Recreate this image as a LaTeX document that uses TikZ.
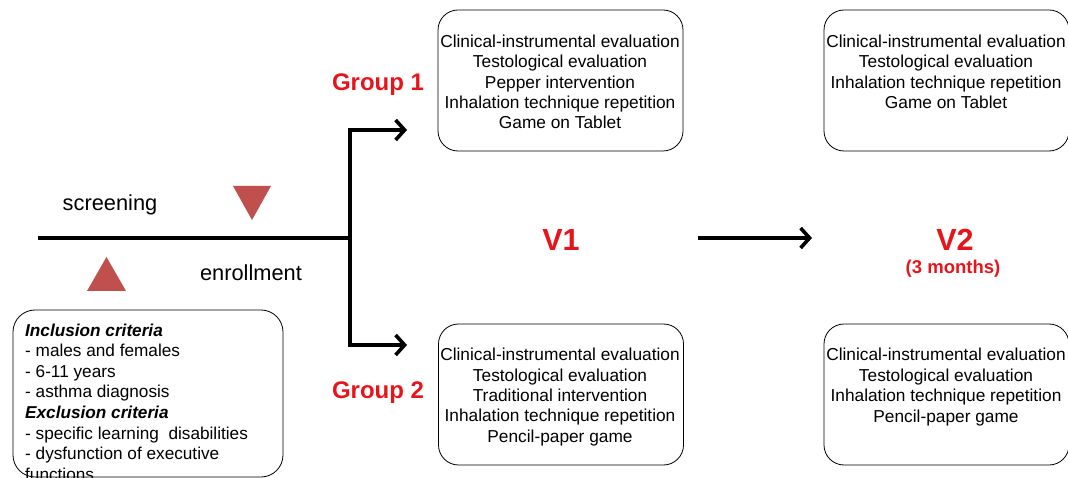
\documentclass[tikz,border=0pt]{standalone}
\usepackage{fontspec}
\setmainfont{Liberation Sans}
\usetikzlibrary{arrows.meta}
\definecolor{tri}{HTML}{C0504D}
\definecolor{lab}{HTML}{E8141C}
\begin{document}
\begin{tikzpicture}[x=1pt,y=-1pt,
  box/.style={draw, line width=0.8pt, rounded corners=20pt, minimum width=245pt, minimum height=141pt, inner sep=0pt},
  boxtext/.style={align=center, inner sep=0pt, font=\fontsize{17.3}{20.4}\selectfont},
  thick line/.style={line width=3.6pt},
  arr/.style={line width=3.6pt, -{Straight Barb[length=9pt,width=20pt,line width=3.6pt]}},
  grp/.style={text=lab, font=\fontsize{24}{26}\selectfont\bfseries},
  plain/.style={font=\fontsize{21.8}{24}\selectfont}]
\useasboundingbox (0,0) rectangle (1068,478);
% boxes
\node[box] (g1v1) at (560.5,80.5) {};
\node[boxtext] at (560,82) {Clinical-instrumental evaluation\\Testological evaluation\\Pepper intervention\\Inhalation technique repetition\\Game on Tablet};
\node[box] (g1v2) at (946.5,80.5) {};
\node[boxtext] at (946,72) {Clinical-instrumental evaluation\\Testological evaluation\\Inhalation technique repetition\\Game on Tablet};
\node[box] (g2v1) at (561,394.5) {};
\node[boxtext] at (560,397) {Clinical-instrumental evaluation\\Testological evaluation\\Traditional intervention\\Inhalation technique repetition\\Pencil-paper game};
\node[box] (g2v2) at (946.5,394.5) {};
\node[boxtext] at (946,387) {Clinical-instrumental evaluation\\Testological evaluation\\Inhalation technique repetition\\Pencil-paper game};
% criteria box
\draw[line width=0.8pt, rounded corners=22pt] (13,310) rectangle (283,477);
\node[anchor=west, align=left, inner sep=0pt, font=\fontsize{17.2}{20.6}\selectfont] (crit) at (25,402) {\textbf{\textit{Inclusion criteria}}\\- males and females\\- 6-11 years\\- asthma diagnosis\\\textbf{\textit{Exclusion criteria}}\\- specific learning\ \ disabilities\\- dysfunction of executive\\functions};
% timeline
\coordinate (start) at (38,238);
\coordinate (fork) at (350,238);
\coordinate (ftop) at (350,130);
\coordinate (fbot) at (350,345);
\coordinate (atop) at (407,130);
\coordinate (abot) at (407,345);
\draw[thick line] (start) -- (fork);
\draw[arr] (fork) -- (ftop) -- (atop);
\draw[arr] (fork) -- (fbot) -- (abot);
% triangles
\fill[tri] (233,186) -- (271,186) -- (252,220) -- cycle;
\fill[tri] (87,291) -- (126,291) -- (106.5,257) -- cycle;
\node[plain] (scr) at (110,205) {screening};
\node[plain] (enr) at (251,273) {enrollment};
% labels
\node[grp] (G1) at (378,85) {Group 1};
\node[grp] (G2) at (378,393) {Group 2};
\node[text=lab, font=\fontsize{30.5}{32}\selectfont\bfseries] (V1) at (561,240) {V1};
\node[text=lab, font=\fontsize{30.5}{32}\selectfont\bfseries] (V2) at (955,240) {V2};
\node[text=lab, font=\fontsize{18.5}{20}\selectfont\bfseries] (mo) at (953,269) {(3 months)};
\coordinate (a1) at (698,238);
\coordinate (a2) at (812,238);
\draw[arr] (a1) -- (a2);
\end{tikzpicture}
\end{document}
